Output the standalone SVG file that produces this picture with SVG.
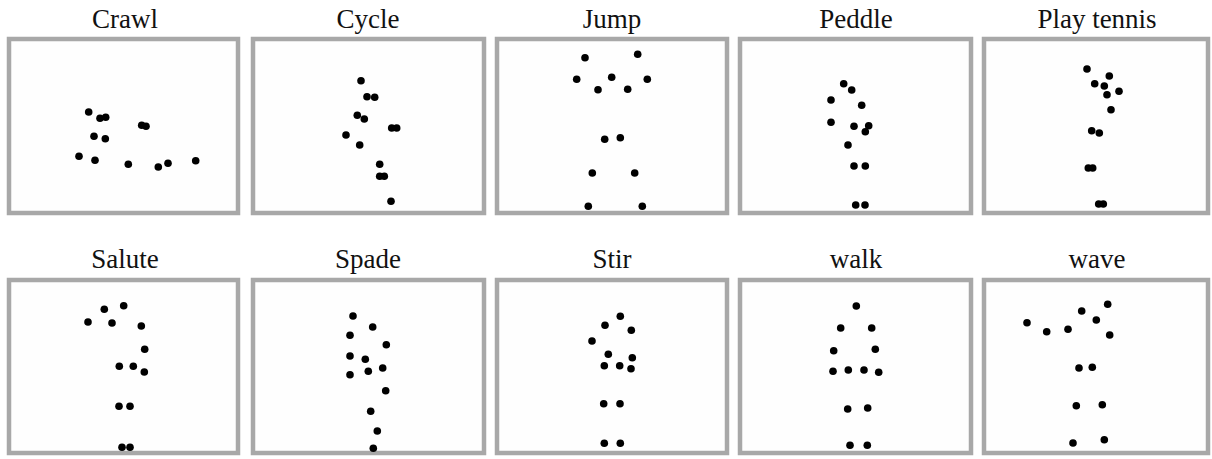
<svg xmlns="http://www.w3.org/2000/svg" width="1212" height="459" viewBox="0 0 1212 459">
<style>
.t{font-family:"Liberation Serif","Times New Roman",serif;font-size:27px;fill:#111;text-anchor:middle}
.p{fill:#fefefe;stroke:#a8a8a8;stroke-width:4.5}
circle{fill:#000}
</style>
<rect width="1212" height="459" fill="#fff"/>
<g id="crawl">
<text class="t" x="125" y="28">Crawl</text>
<rect class="p" x="9" y="39" width="229" height="174"/>
<g><circle cx="88.7" cy="112" r="3.8"/><circle cx="100" cy="118.3" r="3.8"/><circle cx="105.7" cy="117.3" r="3.8"/><circle cx="141.7" cy="125.3" r="3.8"/><circle cx="146" cy="126.3" r="3.8"/><circle cx="94" cy="136.3" r="3.8"/><circle cx="105.3" cy="138.7" r="3.8"/><circle cx="79" cy="156.3" r="3.8"/><circle cx="95" cy="160.3" r="3.8"/><circle cx="128.3" cy="164.3" r="3.8"/><circle cx="158.3" cy="167" r="3.8"/><circle cx="168" cy="163.3" r="3.8"/><circle cx="195.7" cy="160.7" r="3.8"/></g>
</g>
<g id="cycle">
<text class="t" x="368" y="28">Cycle</text>
<rect class="p" x="253" y="39" width="231" height="174"/>
<g><circle cx="361" cy="80.7" r="3.8"/><circle cx="367" cy="96.7" r="3.8"/><circle cx="374.7" cy="97.3" r="3.8"/><circle cx="357.3" cy="115.3" r="3.8"/><circle cx="364.3" cy="119" r="3.8"/><circle cx="391.7" cy="128" r="3.8"/><circle cx="396.7" cy="128" r="3.8"/><circle cx="346" cy="135" r="3.8"/><circle cx="359.7" cy="145" r="3.8"/><circle cx="379.7" cy="164.3" r="3.8"/><circle cx="379.7" cy="176.3" r="3.8"/><circle cx="384.3" cy="176.3" r="3.8"/><circle cx="391" cy="201.3" r="3.8"/></g>
</g>
<g id="jump">
<text class="t" x="612" y="28">Jump</text>
<rect class="p" x="497" y="39" width="230" height="174"/>
<g><circle cx="585" cy="57.7" r="3.8"/><circle cx="637.7" cy="54.3" r="3.8"/><circle cx="576.7" cy="79.3" r="3.8"/><circle cx="611.7" cy="77.3" r="3.8"/><circle cx="647.3" cy="79.3" r="3.8"/><circle cx="598" cy="89.7" r="3.8"/><circle cx="627.7" cy="89.3" r="3.8"/><circle cx="604.7" cy="139.3" r="3.8"/><circle cx="620.3" cy="137.7" r="3.8"/><circle cx="592.3" cy="173" r="3.8"/><circle cx="634.7" cy="173" r="3.8"/><circle cx="588.3" cy="206.3" r="3.8"/><circle cx="642.3" cy="206.3" r="3.8"/></g>
</g>
<g id="peddle">
<text class="t" x="856" y="28">Peddle</text>
<rect class="p" x="740" y="39" width="231" height="174"/>
<g><circle cx="843.7" cy="83.7" r="3.8"/><circle cx="851.7" cy="90" r="3.8"/><circle cx="831" cy="100" r="3.8"/><circle cx="861.7" cy="105.3" r="3.8"/><circle cx="831" cy="122.3" r="3.8"/><circle cx="854" cy="126.3" r="3.8"/><circle cx="868.7" cy="125.7" r="3.8"/><circle cx="865.3" cy="131.7" r="3.8"/><circle cx="848" cy="145" r="3.8"/><circle cx="854" cy="166" r="3.8"/><circle cx="865.3" cy="166" r="3.8"/><circle cx="855.7" cy="205" r="3.8"/><circle cx="865" cy="205" r="3.8"/></g>
</g>
<g id="play-tennis">
<text class="t" x="1097" y="28">Play tennis</text>
<rect class="p" x="984" y="39" width="224" height="174"/>
<g><circle cx="1087" cy="69" r="3.8"/><circle cx="1109.3" cy="76" r="3.8"/><circle cx="1094.7" cy="83.7" r="3.8"/><circle cx="1104.3" cy="86" r="3.8"/><circle cx="1119" cy="91.3" r="3.8"/><circle cx="1107" cy="94.7" r="3.8"/><circle cx="1111" cy="109.7" r="3.8"/><circle cx="1091.7" cy="130.7" r="3.8"/><circle cx="1099.3" cy="133" r="3.8"/><circle cx="1088.3" cy="168" r="3.8"/><circle cx="1092.7" cy="168" r="3.8"/><circle cx="1098.7" cy="204" r="3.8"/><circle cx="1103.3" cy="204" r="3.8"/></g>
</g>
<g id="salute">
<text class="t" x="125" y="268">Salute</text>
<rect class="p" x="9" y="280" width="229" height="173"/>
<g><circle cx="123.7" cy="305.7" r="3.8"/><circle cx="104.3" cy="309.3" r="3.8"/><circle cx="88" cy="322" r="3.8"/><circle cx="112" cy="323" r="3.8"/><circle cx="141.3" cy="326" r="3.8"/><circle cx="144.7" cy="349.3" r="3.8"/><circle cx="119.3" cy="366.3" r="3.8"/><circle cx="133.3" cy="366.3" r="3.8"/><circle cx="144.3" cy="372" r="3.8"/><circle cx="119" cy="406.3" r="3.8"/><circle cx="130" cy="406.3" r="3.8"/><circle cx="122" cy="447.3" r="3.8"/><circle cx="130" cy="447.3" r="3.8"/></g>
</g>
<g id="spade">
<text class="t" x="368" y="268">Spade</text>
<rect class="p" x="253" y="280" width="231" height="173"/>
<g><circle cx="353" cy="316" r="3.8"/><circle cx="372.7" cy="327" r="3.8"/><circle cx="350" cy="335.3" r="3.8"/><circle cx="386.3" cy="344.7" r="3.8"/><circle cx="350" cy="356" r="3.8"/><circle cx="365.3" cy="359.3" r="3.8"/><circle cx="382.7" cy="368" r="3.8"/><circle cx="368.3" cy="371.3" r="3.8"/><circle cx="350" cy="374.7" r="3.8"/><circle cx="385.7" cy="390.7" r="3.8"/><circle cx="370.7" cy="411.3" r="3.8"/><circle cx="377.3" cy="431" r="3.8"/><circle cx="373.3" cy="448.3" r="3.8"/></g>
</g>
<g id="stir">
<text class="t" x="612" y="268">Stir</text>
<rect class="p" x="497" y="280" width="230" height="173"/>
<g><circle cx="620.3" cy="316.3" r="3.8"/><circle cx="605" cy="325.3" r="3.8"/><circle cx="631.3" cy="330.3" r="3.8"/><circle cx="592" cy="341" r="3.8"/><circle cx="608.3" cy="354.3" r="3.8"/><circle cx="632.3" cy="357.7" r="3.8"/><circle cx="604.3" cy="365.7" r="3.8"/><circle cx="619.7" cy="365.7" r="3.8"/><circle cx="631" cy="368.7" r="3.8"/><circle cx="603.7" cy="403.7" r="3.8"/><circle cx="620" cy="403.7" r="3.8"/><circle cx="604.3" cy="443.3" r="3.8"/><circle cx="620.3" cy="443.3" r="3.8"/></g>
</g>
<g id="walk">
<text class="t" x="856" y="268">walk</text>
<rect class="p" x="740" y="280" width="231" height="173"/>
<g><circle cx="856.3" cy="306" r="3.8"/><circle cx="840.7" cy="328" r="3.8"/><circle cx="871.7" cy="328" r="3.8"/><circle cx="833.7" cy="350.7" r="3.8"/><circle cx="875.3" cy="349.3" r="3.8"/><circle cx="833" cy="371.3" r="3.8"/><circle cx="848.3" cy="370" r="3.8"/><circle cx="864" cy="370" r="3.8"/><circle cx="878.7" cy="372.3" r="3.8"/><circle cx="847.7" cy="409" r="3.8"/><circle cx="867.7" cy="408" r="3.8"/><circle cx="850" cy="445.3" r="3.8"/><circle cx="867.3" cy="445.3" r="3.8"/></g>
</g>
<g id="wave">
<text class="t" x="1097" y="268">wave</text>
<rect class="p" x="984" y="280" width="224" height="173"/>
<g><circle cx="1107.7" cy="304.3" r="3.8"/><circle cx="1081.7" cy="311" r="3.8"/><circle cx="1096.3" cy="320" r="3.8"/><circle cx="1027" cy="322.7" r="3.8"/><circle cx="1046.7" cy="331.7" r="3.8"/><circle cx="1068" cy="329.3" r="3.8"/><circle cx="1109.7" cy="335" r="3.8"/><circle cx="1079" cy="368" r="3.8"/><circle cx="1092.3" cy="367.3" r="3.8"/><circle cx="1076.3" cy="405.7" r="3.8"/><circle cx="1102.3" cy="404.7" r="3.8"/><circle cx="1073" cy="443" r="3.8"/><circle cx="1104.3" cy="439.7" r="3.8"/></g>
</g>
<g id="connectors"></g>
</svg>
